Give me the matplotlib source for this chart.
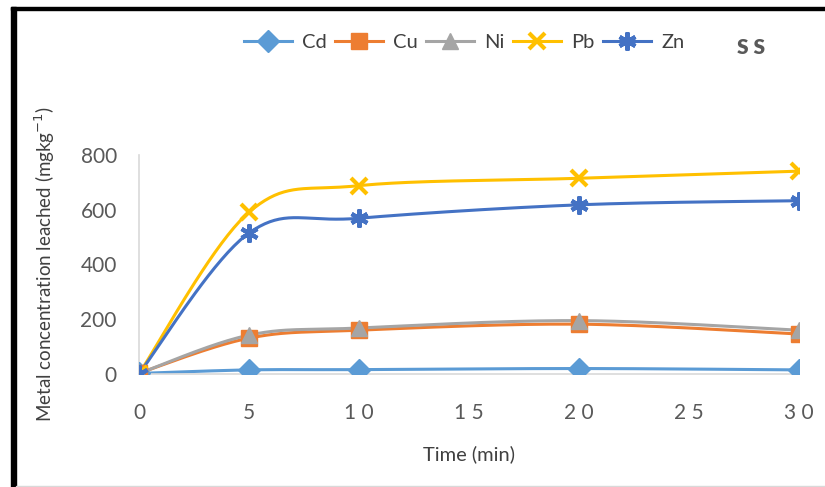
import numpy as np
import matplotlib.pyplot as plt
from matplotlib.lines import Line2D
from matplotlib.patches import Rectangle

plt.rcParams['font.family'] = ['Lato', 'DejaVu Sans']

time_min = [0, 5, 10, 20, 30]
cd = [2, 15, 16, 20, 15]
cu = [3, 131, 160, 182, 146]
ni = [2, 142, 168, 195, 160]
pb = [1, 591, 688, 715, 741]
zn = [1, 515, 569, 618, 633]

series = [
    ("Cd", cd, "#5B9BD5", "D", 11),
    ("Cu", cu, "#ED7D31", "s", 11),
    ("Ni", ni, "#A5A5A5", "^", 12),
    ("Pb", pb, "#FFC000", "x", 12),
    ("Zn", zn, "#4472C4", (6, 2, 0), 13),
]


def smooth(x, y, n=40):
    # Excel-style smoothed line: Catmull-Rom spline through the points
    x = np.asarray(x, float)
    y = np.asarray(y, float)
    px = np.concatenate([[x[0]], x, [x[-1]]])
    py = np.concatenate([[y[0]], y, [y[-1]]])
    xs, ys = [], []
    t = np.linspace(0, 1, n)
    for i in range(1, len(px) - 2):
        p0, p1, p2, p3 = [np.array([px[j], py[j]]) for j in (i - 1, i, i + 1, i + 2)]
        m1 = 0.5 * (p2 - p0)
        m2 = 0.5 * (p3 - p1)
        h00 = 2 * t**3 - 3 * t**2 + 1
        h10 = t**3 - 2 * t**2 + t
        h01 = -2 * t**3 + 3 * t**2
        h11 = t**3 - t**2
        pts = (np.outer(h00, p1) + np.outer(h10, m1) + np.outer(h01, p2) + np.outer(h11, m2))
        xs.extend(pts[:, 0])
        ys.extend(pts[:, 1])
    return np.array(xs), np.array(ys)


fig = plt.figure(figsize=(8.25, 4.87), dpi=100)
ax = fig.add_axes([139 / 825, 1 - 374 / 487, 660 / 825, 219 / 487])


def marker_kw(marker, color, ms):
    if marker == "x" or isinstance(marker, tuple):
        return dict(marker=marker, ms=ms, mew=3, color=color)
    return dict(marker=marker, ms=ms, color=color, mec=color)


for name, vals, color, marker, ms in series:
    sx, sy = smooth(time_min, vals)
    ax.plot(sx, sy, color=color, lw=2.2, zorder=2)
    ax.plot(time_min, vals, ls="none", zorder=3, **marker_kw(marker, color, ms))

ax.set_xlim(0, 30)
ax.set_ylim(0, 800)
ax.set_xticks([0, 5, 10, 15, 20, 25, 30])
ax.set_xticklabels(["0", "5", "1 0", "1 5", "2 0", "2 5", "3 0"])
ax.set_yticks([0, 200, 400, 600, 800])
for s in ["top", "right"]:
    ax.spines[s].set_visible(False)
for s in ["left", "bottom"]:
    ax.spines[s].set_color("#D9D9D9")
    ax.spines[s].set_linewidth(1.2)
ax.tick_params(length=0, labelsize=15, colors="#595959")
ax.tick_params(axis="x", pad=21)
ax.tick_params(axis="y", pad=16)
ax.set_xlabel("Time (min)", fontsize=14.5, color="#404040", labelpad=16)
ax.set_ylabel("Metal concentration leached (mgkg$^{-1}$)", fontsize=13.5, color="#404040", labelpad=17)

handles = [Line2D([], [], label=name, lw=2.2, **marker_kw(marker, color, ms))
           for name, vals, color, marker, ms in series]
fig.legend(handles=handles, loc="center", bbox_to_anchor=(464 / 825, 1 - 42 / 487), ncol=5,
           frameon=False, fontsize=14.5, handlelength=2.4, columnspacing=0.4, handletextpad=0.5,
           labelcolor="#404040")
fig.text(751 / 825, 1 - 47 / 487, "S S", fontsize=15, fontweight="heavy", color="#595959",
         ha="center", va="center")

# frame around the chart image
fig.patches.append(Rectangle((11 / 825, 0), 5 / 825, 1 - 7 / 487, transform=fig.transFigure,
                             color="black", zorder=5))
fig.patches.append(Rectangle((11 / 825, 1 - 10 / 487), 1 - 11 / 825, 3 / 487, transform=fig.transFigure,
                             color="black", zorder=5))
fig.patches.append(Rectangle((16 / 825, 0), 1, 1.5 / 487, transform=fig.transFigure,
                             color="#D9D9D9", zorder=5))

fig.savefig("out.png", dpi=100)
